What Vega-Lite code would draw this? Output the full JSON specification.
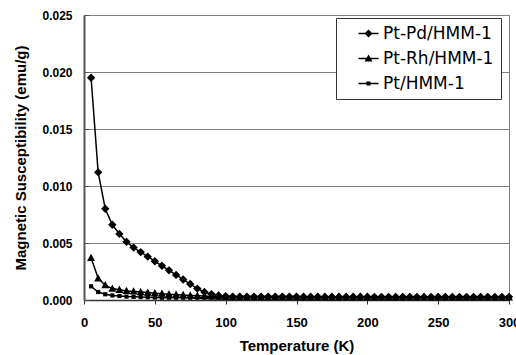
{
  "$schema": "https://vega.github.io/schema/vega-lite/v6.json",
  "width": 425,
  "height": 285,
  "autosize": "none",
  "padding": {"left": 84, "top": 15, "right": 7, "bottom": 55},
  "background": "white",
  "config": {
    "font": "Liberation Sans",
    "view": {"stroke": "#808080", "strokeWidth": 1}
  },
  "data": {"values": [
    {"T":5,"s":"Pt-Pd/HMM-1","v":0.0195},{"T":10,"s":"Pt-Pd/HMM-1","v":0.0112},{"T":15,"s":"Pt-Pd/HMM-1","v":0.0080},{"T":20,"s":"Pt-Pd/HMM-1","v":0.0066},{"T":25,"s":"Pt-Pd/HMM-1","v":0.0058},{"T":30,"s":"Pt-Pd/HMM-1","v":0.0051},{"T":35,"s":"Pt-Pd/HMM-1","v":0.0046},{"T":40,"s":"Pt-Pd/HMM-1","v":0.0042},{"T":45,"s":"Pt-Pd/HMM-1","v":0.0038},{"T":50,"s":"Pt-Pd/HMM-1","v":0.0034},{"T":55,"s":"Pt-Pd/HMM-1","v":0.0030},{"T":60,"s":"Pt-Pd/HMM-1","v":0.0026},{"T":65,"s":"Pt-Pd/HMM-1","v":0.0022},{"T":70,"s":"Pt-Pd/HMM-1","v":0.0018},{"T":75,"s":"Pt-Pd/HMM-1","v":0.0014},{"T":80,"s":"Pt-Pd/HMM-1","v":0.0010},{"T":85,"s":"Pt-Pd/HMM-1","v":0.0007},{"T":90,"s":"Pt-Pd/HMM-1","v":0.0005},{"T":95,"s":"Pt-Pd/HMM-1","v":0.0004},{"T":100,"s":"Pt-Pd/HMM-1","v":0.00034},
    {"T":105,"s":"Pt-Pd/HMM-1","v":0.0003},{"T":110,"s":"Pt-Pd/HMM-1","v":0.0003},{"T":115,"s":"Pt-Pd/HMM-1","v":0.0003},{"T":120,"s":"Pt-Pd/HMM-1","v":0.0003},{"T":125,"s":"Pt-Pd/HMM-1","v":0.0003},{"T":130,"s":"Pt-Pd/HMM-1","v":0.0003},{"T":135,"s":"Pt-Pd/HMM-1","v":0.0003},{"T":140,"s":"Pt-Pd/HMM-1","v":0.0003},{"T":145,"s":"Pt-Pd/HMM-1","v":0.0003},{"T":150,"s":"Pt-Pd/HMM-1","v":0.0003},
    {"T":155,"s":"Pt-Pd/HMM-1","v":0.00029},{"T":160,"s":"Pt-Pd/HMM-1","v":0.00029},{"T":165,"s":"Pt-Pd/HMM-1","v":0.00029},{"T":170,"s":"Pt-Pd/HMM-1","v":0.00029},{"T":175,"s":"Pt-Pd/HMM-1","v":0.00029},{"T":180,"s":"Pt-Pd/HMM-1","v":0.00029},{"T":185,"s":"Pt-Pd/HMM-1","v":0.00029},{"T":190,"s":"Pt-Pd/HMM-1","v":0.00029},{"T":195,"s":"Pt-Pd/HMM-1","v":0.00029},{"T":200,"s":"Pt-Pd/HMM-1","v":0.00029},
    {"T":205,"s":"Pt-Pd/HMM-1","v":0.00028},{"T":210,"s":"Pt-Pd/HMM-1","v":0.00028},{"T":215,"s":"Pt-Pd/HMM-1","v":0.00028},{"T":220,"s":"Pt-Pd/HMM-1","v":0.00028},{"T":225,"s":"Pt-Pd/HMM-1","v":0.00028},{"T":230,"s":"Pt-Pd/HMM-1","v":0.00028},{"T":235,"s":"Pt-Pd/HMM-1","v":0.00028},{"T":240,"s":"Pt-Pd/HMM-1","v":0.00028},{"T":245,"s":"Pt-Pd/HMM-1","v":0.00028},{"T":250,"s":"Pt-Pd/HMM-1","v":0.00028},{"T":255,"s":"Pt-Pd/HMM-1","v":0.00028},{"T":260,"s":"Pt-Pd/HMM-1","v":0.00028},{"T":265,"s":"Pt-Pd/HMM-1","v":0.00028},{"T":270,"s":"Pt-Pd/HMM-1","v":0.00028},{"T":275,"s":"Pt-Pd/HMM-1","v":0.00028},{"T":280,"s":"Pt-Pd/HMM-1","v":0.00028},{"T":285,"s":"Pt-Pd/HMM-1","v":0.00028},{"T":290,"s":"Pt-Pd/HMM-1","v":0.00028},{"T":295,"s":"Pt-Pd/HMM-1","v":0.00028},{"T":300,"s":"Pt-Pd/HMM-1","v":0.00028},
    {"T":5,"s":"Pt-Rh/HMM-1","v":0.0037},{"T":10,"s":"Pt-Rh/HMM-1","v":0.0019},{"T":15,"s":"Pt-Rh/HMM-1","v":0.0013},{"T":20,"s":"Pt-Rh/HMM-1","v":0.0010},{"T":25,"s":"Pt-Rh/HMM-1","v":0.0009},{"T":30,"s":"Pt-Rh/HMM-1","v":0.0008},{"T":35,"s":"Pt-Rh/HMM-1","v":0.00075},{"T":40,"s":"Pt-Rh/HMM-1","v":0.0007},{"T":45,"s":"Pt-Rh/HMM-1","v":0.00065},{"T":50,"s":"Pt-Rh/HMM-1","v":0.0006},{"T":55,"s":"Pt-Rh/HMM-1","v":0.00055},{"T":60,"s":"Pt-Rh/HMM-1","v":0.0005},{"T":65,"s":"Pt-Rh/HMM-1","v":0.00047},{"T":70,"s":"Pt-Rh/HMM-1","v":0.00044},{"T":75,"s":"Pt-Rh/HMM-1","v":0.0004},{"T":80,"s":"Pt-Rh/HMM-1","v":0.00037},{"T":85,"s":"Pt-Rh/HMM-1","v":0.00034},{"T":90,"s":"Pt-Rh/HMM-1","v":0.00031},{"T":95,"s":"Pt-Rh/HMM-1","v":0.00029},{"T":100,"s":"Pt-Rh/HMM-1","v":0.00027},
    {"T":105,"s":"Pt-Rh/HMM-1","v":0.00025},{"T":110,"s":"Pt-Rh/HMM-1","v":0.00025},{"T":115,"s":"Pt-Rh/HMM-1","v":0.00025},{"T":120,"s":"Pt-Rh/HMM-1","v":0.00025},{"T":125,"s":"Pt-Rh/HMM-1","v":0.00025},{"T":130,"s":"Pt-Rh/HMM-1","v":0.00025},{"T":135,"s":"Pt-Rh/HMM-1","v":0.00025},{"T":140,"s":"Pt-Rh/HMM-1","v":0.00025},{"T":145,"s":"Pt-Rh/HMM-1","v":0.00025},{"T":150,"s":"Pt-Rh/HMM-1","v":0.00025},
    {"T":155,"s":"Pt-Rh/HMM-1","v":0.00024},{"T":160,"s":"Pt-Rh/HMM-1","v":0.00024},{"T":165,"s":"Pt-Rh/HMM-1","v":0.00024},{"T":170,"s":"Pt-Rh/HMM-1","v":0.00024},{"T":175,"s":"Pt-Rh/HMM-1","v":0.00024},{"T":180,"s":"Pt-Rh/HMM-1","v":0.00024},{"T":185,"s":"Pt-Rh/HMM-1","v":0.00024},{"T":190,"s":"Pt-Rh/HMM-1","v":0.00024},{"T":195,"s":"Pt-Rh/HMM-1","v":0.00024},{"T":200,"s":"Pt-Rh/HMM-1","v":0.00024},
    {"T":205,"s":"Pt-Rh/HMM-1","v":0.00023},{"T":210,"s":"Pt-Rh/HMM-1","v":0.00023},{"T":215,"s":"Pt-Rh/HMM-1","v":0.00023},{"T":220,"s":"Pt-Rh/HMM-1","v":0.00023},{"T":225,"s":"Pt-Rh/HMM-1","v":0.00023},{"T":230,"s":"Pt-Rh/HMM-1","v":0.00023},{"T":235,"s":"Pt-Rh/HMM-1","v":0.00023},{"T":240,"s":"Pt-Rh/HMM-1","v":0.00023},{"T":245,"s":"Pt-Rh/HMM-1","v":0.00023},{"T":250,"s":"Pt-Rh/HMM-1","v":0.00023},{"T":255,"s":"Pt-Rh/HMM-1","v":0.00023},{"T":260,"s":"Pt-Rh/HMM-1","v":0.00023},{"T":265,"s":"Pt-Rh/HMM-1","v":0.00023},{"T":270,"s":"Pt-Rh/HMM-1","v":0.00023},{"T":275,"s":"Pt-Rh/HMM-1","v":0.00023},{"T":280,"s":"Pt-Rh/HMM-1","v":0.00023},{"T":285,"s":"Pt-Rh/HMM-1","v":0.00023},{"T":290,"s":"Pt-Rh/HMM-1","v":0.00023},{"T":295,"s":"Pt-Rh/HMM-1","v":0.00023},{"T":300,"s":"Pt-Rh/HMM-1","v":0.00023},
    {"T":5,"s":"Pt/HMM-1","v":0.0012},{"T":10,"s":"Pt/HMM-1","v":0.0007},{"T":15,"s":"Pt/HMM-1","v":0.0005},{"T":20,"s":"Pt/HMM-1","v":0.0004},{"T":25,"s":"Pt/HMM-1","v":0.00035},{"T":30,"s":"Pt/HMM-1","v":0.0003},{"T":35,"s":"Pt/HMM-1","v":0.00028},{"T":40,"s":"Pt/HMM-1","v":0.00026},{"T":45,"s":"Pt/HMM-1","v":0.00024},{"T":50,"s":"Pt/HMM-1","v":0.00022},{"T":55,"s":"Pt/HMM-1","v":0.0002},{"T":60,"s":"Pt/HMM-1","v":0.0002},{"T":65,"s":"Pt/HMM-1","v":0.0002},{"T":70,"s":"Pt/HMM-1","v":0.0002},{"T":75,"s":"Pt/HMM-1","v":0.0002},{"T":80,"s":"Pt/HMM-1","v":0.0002},{"T":85,"s":"Pt/HMM-1","v":0.0002},{"T":90,"s":"Pt/HMM-1","v":0.0002},{"T":95,"s":"Pt/HMM-1","v":0.0002},{"T":100,"s":"Pt/HMM-1","v":0.0002},
    {"T":105,"s":"Pt/HMM-1","v":0.00019},{"T":110,"s":"Pt/HMM-1","v":0.00019},{"T":115,"s":"Pt/HMM-1","v":0.00019},{"T":120,"s":"Pt/HMM-1","v":0.00019},{"T":125,"s":"Pt/HMM-1","v":0.00019},{"T":130,"s":"Pt/HMM-1","v":0.00019},{"T":135,"s":"Pt/HMM-1","v":0.00019},{"T":140,"s":"Pt/HMM-1","v":0.00019},{"T":145,"s":"Pt/HMM-1","v":0.00019},{"T":150,"s":"Pt/HMM-1","v":0.00019},
    {"T":155,"s":"Pt/HMM-1","v":0.00018},{"T":160,"s":"Pt/HMM-1","v":0.00018},{"T":165,"s":"Pt/HMM-1","v":0.00018},{"T":170,"s":"Pt/HMM-1","v":0.00018},{"T":175,"s":"Pt/HMM-1","v":0.00018},{"T":180,"s":"Pt/HMM-1","v":0.00018},{"T":185,"s":"Pt/HMM-1","v":0.00018},{"T":190,"s":"Pt/HMM-1","v":0.00018},{"T":195,"s":"Pt/HMM-1","v":0.00018},{"T":200,"s":"Pt/HMM-1","v":0.00018},
    {"T":205,"s":"Pt/HMM-1","v":0.00018},{"T":210,"s":"Pt/HMM-1","v":0.00018},{"T":215,"s":"Pt/HMM-1","v":0.00018},{"T":220,"s":"Pt/HMM-1","v":0.00018},{"T":225,"s":"Pt/HMM-1","v":0.00018},{"T":230,"s":"Pt/HMM-1","v":0.00018},{"T":235,"s":"Pt/HMM-1","v":0.00018},{"T":240,"s":"Pt/HMM-1","v":0.00018},{"T":245,"s":"Pt/HMM-1","v":0.00018},{"T":250,"s":"Pt/HMM-1","v":0.00018},{"T":255,"s":"Pt/HMM-1","v":0.00018},{"T":260,"s":"Pt/HMM-1","v":0.00018},{"T":265,"s":"Pt/HMM-1","v":0.00018},{"T":270,"s":"Pt/HMM-1","v":0.00018},{"T":275,"s":"Pt/HMM-1","v":0.00018},{"T":280,"s":"Pt/HMM-1","v":0.00018},{"T":285,"s":"Pt/HMM-1","v":0.00018},{"T":290,"s":"Pt/HMM-1","v":0.00018},{"T":295,"s":"Pt/HMM-1","v":0.00018},{"T":300,"s":"Pt/HMM-1","v":0.00018}
  ]},
  "encoding": {
    "x": {
      "field": "T", "type": "quantitative",
      "scale": {"domain": [0, 300], "nice": false, "zero": true},
      "axis": {
        "title": "Temperature (K)", "values": [0, 50, 100, 150, 200, 250, 300],
        "grid": false, "domainColor": "#333", "domainWidth": 1.5,
        "tickColor": "#333", "tickSize": 4, "labelPadding": 12,
        "labelFont": "Liberation Sans", "labelFontSize": 13, "labelFontWeight": "bold", "labelColor": "#000",
        "labelFlush": false, "labelOverlap": false,
        "titleFont": "Liberation Sans", "titleFontSize": 15, "titleFontWeight": "bold", "titleColor": "#000",
        "titleY": 45, "titleBaseline": "middle"
      }
    },
    "y": {
      "field": "v", "type": "quantitative",
      "scale": {"domain": [0, 0.025], "nice": false},
      "axis": {
        "title": "Magnetic Susceptibility  (emu/g)", "values": [0, 0.005, 0.01, 0.015, 0.02, 0.025],
        "format": ".3f", "grid": true, "gridColor": "#808080", "gridWidth": 1,
        "domainColor": "#555", "domainWidth": 2,
        "tickColor": "#555", "tickSize": -5, "labelPadding": 17,
        "labelFont": "Liberation Sans", "labelFontSize": 12, "labelFontWeight": "bold", "labelColor": "#000",
        "labelFlush": false,
        "titleFont": "Liberation Sans", "titleFontSize": 15, "titleFontWeight": "bold", "titleColor": "#000",
        "titleX": -64, "titleY": 142.5, "titleBaseline": "middle", "titleAlign": "center", "titleAngle": -90
      }
    }
  },
  "resolve": {"scale": {"shape": "independent"}, "legend": {"shape": "independent"}},
  "layer": [
    {
      "mark": {"type": "line", "color": "black", "strokeWidth": 1.5},
      "encoding": {"detail": {"field": "s"}}
    },
    {
      "mark": {"type": "point", "filled": true, "color": "black", "opacity": 1, "size": 70},
      "encoding": {
        "shape": {
          "field": "s", "type": "nominal",
          "scale": {"domain": ["Pt-Pd/HMM-1", "Pt-Rh/HMM-1", "Pt/HMM-1"], "range": ["M0,-1L1,0L0,1L-1,0Z", "M0,-1L0.95,0.75L-0.95,0.75Z", "M-0.5,-0.5H0.5V0.5H-0.5Z"]},
          "legend": null
        }
      }
    },
    {
      "transform": [{"filter": "datum.T < 0"}],
      "mark": {"type": "point", "filled": true, "color": "black", "opacity": 1},
      "encoding": {
        "shape": {
          "field": "s", "type": "nominal",
          "scale": {"domain": ["Pt-Pd/HMM-1", "Pt-Rh/HMM-1", "Pt/HMM-1"], "range": [
            "M-2,-0.15H2V0.15H-2ZM0,-0.8L0.8,0L0,0.8L-0.8,0Z",
            "M-2,-0.15H2V0.15H-2ZM0,-0.8L0.8,0.6L-0.8,0.6Z",
            "M-2,-0.15H2V0.15H-2ZM-0.4,-0.4H0.4V0.4H-0.4Z"
          ]},
          "legend": {
            "title": null, "orient": "none", "legendX": 252, "legendY": 3,
            "strokeColor": "#333", "fillColor": "white", "padding": 7,
            "symbolSize": 100, "symbolOffset": 17, "labelOffset": 6, "rowPadding": 7,
            "symbolFillColor": "black", "symbolStrokeColor": "black", "symbolStrokeWidth": 0,
            "symbolOpacity": 1,
            "labelFont": "DejaVu Sans", "labelFontSize": 17, "labelColor": "#000", "labelFontWeight": "normal",
            "labelLimit": 300
          }
        }
      }
    }
  ]
}
